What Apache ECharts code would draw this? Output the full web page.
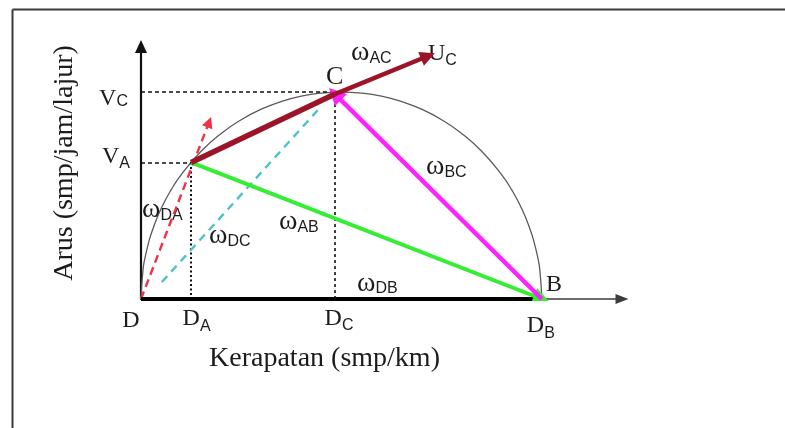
<!DOCTYPE html>
<html>
<head>
<meta charset="utf-8">
<script src="https://cdn.jsdelivr.net/npm/echarts@6/dist/echarts.min.js"></script>
<style>
html, body { margin: 0; padding: 0; background: #fff; }
#chart { width: 785px; height: 428px; }
</style>
</head>
<body>
<div id="chart"></div>
<script>
// Flow–density diagram: Arus (flow) against Kerapatan (density), with shock-wave vectors.

// Flow–density curve (density, flow)
const curveDensity = [0, 0.5, 1, 2, 3, 5, 7.5, 10, 15, 20, 25, 30, 35, 40, 45, 50,
                      55, 60, 65, 70, 75, 80, 85, 90, 92.5, 95, 97, 98, 99, 99.5, 100];
const curveFlow    = [0, 14.1, 19.9, 28, 34.1, 43.6, 52.7, 60, 71.4, 80, 86.6, 91.7, 95.4, 98, 99.5, 100,
                      99.5, 98, 95.4, 91.7, 86.6, 80, 71.4, 60, 52.7, 43.6, 34.1, 28, 19.9, 14.1, 0];

// Named states on the curve: [density, flow]
const pointD  = [0, 0];
const pointA  = [12.5, 66];
const pointC  = [48.4, 99];
const pointB  = [100, 0];
const pointUc = [71.6, 117.4];
const flowVC  = 100;

// Wave-speed rays drawn as dashed lines
const rayDA = [[0, 0], [17, 85.5]];
const rayDC = [[5.2, 8.2], [44.6, 92.3]];

// Axis tick labels: [main, subscript]
const xTickValues = [0, 12.5, 48.4, 100];
const xTickLabels = [['D', ''], ['D', 'A'], ['D', 'C'], ['D', 'B']];
const yTickValues = [66, 100];
const yTickLabels = [['V', 'A'], ['V', 'C']];

// Label paddings per tick: [left, right, top, bottom, subscript drop]
const xTickPad = [[0, 20, 5.5, 0, 0], [11, 0, 3.5, 0, 8], [8, 0, 3.5, 0, 7.5], [0, 2, 11, 0, 7.5]];
const yTickPad = [[0, 0, 0, 8.5, 7.5], [0, 2, 13.6, 0, 3]];

const INK = '#1c1c1c';
const SERIF = '"Liberation Serif", "Times New Roman", serif';
const SANS = '"Liberation Sans", Arial, sans-serif';

function buildRich(labels, pads) {
  const rich = {};
  labels.forEach((lab, i) => {
    const [pl, pr, pt, pb, drop] = pads[i];
    const hasSub = !!lab[1];
    const e = Math.max(0, drop - 4);
    rich['m' + i] = {
      fontFamily: SERIF, fontSize: 24, color: INK, verticalAlign: 'top',
      padding: [pt, hasSub ? 0 : pr, pb + (hasSub ? e : 0), pl]
    };
    rich['s' + i] = {
      fontFamily: SANS, fontSize: 16, color: INK, verticalAlign: 'top',
      padding: [pt + 4 + drop, pr, pb + Math.max(0, 4 - drop), 0]
    };
  });
  return rich;
}

function tickFormatter(values, labels) {
  return function (v) {
    let best = 0;
    values.forEach((t, i) => { if (Math.abs(t - v) < Math.abs(values[best] - v)) best = i; });
    const [m, s] = labels[best];
    return s ? `{m${best}|${m}}{s${best}|${s}}` : `{m${best}|${m}}`;
  };
}

// Canvas used to measure glyph widths for subscripted annotations
const measureCtx = document.createElement('canvas').getContext('2d');
function textWidth(t, font) { measureCtx.font = font; return measureCtx.measureText(t).width; }

// Main glyph + subscript annotation; y is the visual centre of the main glyph
function subLabel(x, y, main, sub, opts) {
  const size = opts.size || 28;
  const lower = opts.lower;
  const mainFont = size + 'px ' + SERIF;
  const subFont = (opts.subSize || 16) + 'px ' + SANS;
  const w = textWidth(main, mainFont);
  const items = [{
    type: 'text', x: x, y: lower ? y - 0.11 * size : y,
    style: { text: main, font: mainFont, fill: INK, align: 'left', verticalAlign: 'middle' }
  }];
  if (sub) {
    items.push({
      type: 'text', x: x + w + (opts.gap || 0), y: y + (opts.drop || 0),
      style: { text: sub, font: subFont, fill: INK, align: 'left', verticalAlign: 'middle' }
    });
  }
  return items;
}

function segment(from, to, color, width, extra) {
  extra = extra || {};
  return {
    type: 'lines',
    coordinateSystem: 'cartesian2d',
    silent: true,
    z: extra.z || 3,
    symbol: ['none', extra.head ? 'triangle' : 'none'],
    symbolSize: [0, extra.head || 0],
    lineStyle: { color: color, width: width, opacity: 1, type: extra.dash || 'solid', cap: 'butt' },
    data: [{ coords: [from, to] }]
  };
}

const guideStyle = { color: '#111', width: 1.5, type: [4, 3], opacity: 1 };
const dotStyle = { color: '#111', width: 2, type: [2, 2.5], opacity: 1 };

const chart = echarts.init(document.getElementById('chart'), null, { renderer: 'canvas' });

const annotations = [].concat(
  subLabel(351, 56, 'ω', 'AC', { lower: true, drop: 3 }),
  subLabel(426, 170, 'ω', 'BC', { lower: true, drop: 3 }),
  subLabel(142, 212.5, 'ω', 'DA', { lower: true, drop: 3 }),
  subLabel(209, 239, 'ω', 'DC', { lower: true, drop: 3 }),
  subLabel(279, 225, 'ω', 'AB', { lower: true, drop: 3 }),
  subLabel(357, 286.5, 'ω', 'DB', { lower: true, drop: 2 }),
  subLabel(428, 53.5, 'U', 'C', { size: 24, drop: 7 }),
  subLabel(326, 77, 'C', '', { size: 26 }),
  subLabel(546, 285, 'B', '', { size: 24 })
);

chart.setOption({
  animation: false,
  backgroundColor: '#ffffff',
  grid: { left: 141, right: 163, top: 46.5, bottom: 129, containLabel: false, outerBoundsMode: 'none' },
  xAxis: {
    type: 'value', min: 0, max: 120,
    axisLine: {
      show: true, onZero: true, symbol: ['none', 'triangle'], symbolSize: [10, 13],
      lineStyle: { color: '#3c3c3c', width: 1.5 }
    },
    axisTick: { show: false },
    splitLine: { show: false },
    axisLabel: {
      customValues: xTickValues,
      margin: 4,
      formatter: tickFormatter(xTickValues, xTickLabels),
      rich: buildRich(xTickLabels, xTickPad)
    }
  },
  yAxis: {
    type: 'value', min: 0, max: 122,
    axisLine: {
      show: true, onZero: true, symbol: ['none', 'triangle'], symbolSize: [12, 13],
      lineStyle: { color: '#111', width: 2.2 }
    },
    axisTick: { show: false },
    splitLine: { show: false },
    axisLabel: {
      customValues: yTickValues,
      margin: 11,
      formatter: tickFormatter(yTickValues, yTickLabels),
      rich: buildRich(yTickLabels, yTickPad)
    }
  },
  series: [
    {
      type: 'line', name: 'curve', silent: true, z: 1,
      data: curveDensity.map((x, i) => [x, curveFlow[i]]),
      smooth: 0.5, showSymbol: false,
      lineStyle: { color: '#5a5a5a', width: 1.3 }
    },
    {
      type: 'lines', coordinateSystem: 'cartesian2d', silent: true, z: 2,
      symbol: ['none', 'none'],
      lineStyle: guideStyle,
      data: [
        { coords: [[0, flowVC], [pointC[0], flowVC]] },
        { coords: [[0, pointA[1]], [pointA[0], pointA[1]]] },
        { coords: [[pointA[0], pointA[1]], [pointA[0], 0]], lineStyle: dotStyle },
        { coords: [[pointC[0], flowVC], [pointC[0], 0]], lineStyle: { color: '#111', width: 1.6, type: [3, 3], opacity: 1 } }
      ]
    },
    segment(rayDC[0], rayDC[1], '#4fc3c3', 2.4, { dash: [8, 6], z: 3 }),
    segment(rayDA[0], rayDA[1], '#ee3344', 2.4, { dash: [8, 5], z: 3, head: 11 }),
    segment(pointD, pointB, '#000000', 4, { z: 4 }),
    segment(pointA, pointB, '#33ee33', 4, { z: 5, head: 17 }),
    segment(pointB, pointC, '#ff22ff', 4.5, { z: 6, head: 17 }),
    segment(pointA, pointC, '#9c1428', 5.5, { z: 7 }),
    segment(pointC, pointUc, '#9c1428', 4.5, { z: 7, head: 15 })
  ],
  graphic: [
    { type: 'line', shape: { x1: 12.5, y1: 9.5, x2: 785, y2: 9.5 }, style: { stroke: '#3a3a3a', lineWidth: 2 } },
    { type: 'line', shape: { x1: 12.5, y1: 9.5, x2: 12.5, y2: 428 }, style: { stroke: '#3a3a3a', lineWidth: 2 } },
    {
      type: 'text', x: 324.5, y: 359,
      style: { text: 'Kerapatan (smp/km)', font: '28px ' + SERIF, fill: INK, align: 'center', verticalAlign: 'middle' }
    },
    {
      type: 'text', x: 65, y: 163, rotation: Math.PI / 2,
      style: { text: 'Arus (smp/jam/lajur)', font: '28px ' + SERIF, fill: INK, align: 'center', verticalAlign: 'middle' }
    }
  ].concat(annotations)
});
</script>
</body>
</html>
